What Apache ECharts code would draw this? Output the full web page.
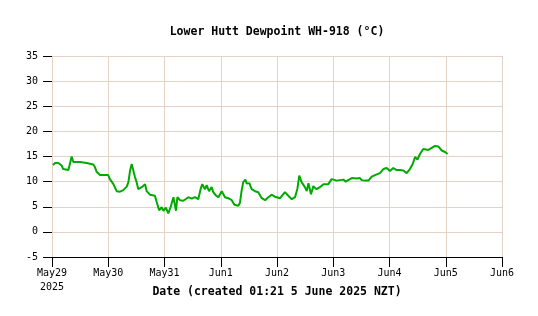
<!DOCTYPE html>
<html>
<head>
<meta charset="utf-8">
<script src="https://cdn.jsdelivr.net/npm/echarts@6/dist/echarts.min.js"></script>
<style>html,body{margin:0;padding:0;background:#fff}#c{width:538px;height:316px}</style>
</head>
<body>
<div id="c"></div>
<script>
// Hours since 2025-05-29 00:00 NZT
var hoursSinceStart = [0.4,1.3,2.7,4.1,4.8,7.0,7.7,8.4,9.1,11.9,13.4,14.8,17.6,18.3,19.1,20.5,24.0,24.7,26.2,27.6,29.0,30.4,31.9,32.6,33.3,34.0,34.7,35.4,36.1,36.8,37.5,38.3,39.7,40.4,41.8,43.9,44.7,45.7,46.8,47.5,48.6,49.6,50.6,51.8,52.5,52.9,53.5,54.6,56.0,56.7,58.2,59.6,61.0,62.4,63.4,64.1,65.3,66.0,67.0,68.1,68.8,70.0,71.0,72.4,73.8,75.2,76.7,77.8,79.5,80.2,80.9,81.6,82.5,83.1,84.2,85.2,86.6,88.0,89.5,90.9,92.3,93.7,95.1,97.3,99.4,100.8,102.3,103.7,104.7,105.5,106.5,107.9,108.7,109.4,110.5,111.5,112.9,114.3,115.8,117.9,119.3,121.5,124.3,125.3,126.4,127.9,130.0,131.4,132.1,133.5,135.0,136.4,137.8,139.9,141.4,142.8,144.2,145.6,147.1,148.5,149.9,151.3,152.7,153.9,154.9,155.9,157.0,158.4,160.6,162.0,163.4,164.8,166.3,167.7,168.8];
var dewpoint = [13.3,13.7,13.7,13.2,12.5,12.3,12.1,15.0,13.9,13.9,13.8,13.7,13.4,12.9,11.9,11.3,11.3,10.5,9.5,8.1,8.0,8.3,9.0,9.9,12.2,13.5,12.2,10.9,9.9,8.5,8.2,8.9,9.5,8.1,7.4,7.2,5.9,4.3,4.9,4.2,4.8,3.7,4.9,6.9,7.0,4.2,6.9,6.3,6.2,5.9,6.9,6.6,6.9,6.5,8.5,9.5,8.5,9.3,8.1,8.9,7.9,7.2,6.9,8.1,6.9,6.7,6.3,5.4,5.2,5.8,8.2,9.9,10.4,9.6,9.7,8.5,8.1,7.9,6.7,6.3,6.9,7.4,7.0,6.7,7.9,7.2,6.5,6.9,8.6,11.2,9.9,8.9,8.1,9.7,7.5,9.1,8.5,8.9,9.5,9.5,10.5,10.2,10.4,10.0,10.3,10.7,10.6,10.7,10.3,10.2,10.2,11.0,11.3,11.7,12.5,12.7,12.1,12.7,12.3,12.3,12.2,11.7,12.5,13.5,14.9,14.4,15.5,16.5,16.3,16.7,17.1,17.0,16.2,15.9,15.5];
var xTickLabels = ['May29\n2025','May30','May31','Jun1','Jun2','Jun3','Jun4','Jun5','Jun6'];
var yMin = -5, yMax = 35, yStep = 5;
var titleText = 'Lower Hutt Dewpoint WH-918 (°C)';
var xAxisName = 'Date (created 01:21 5 June 2025 NZT)';

var seriesData = hoursSinceStart.map(function(h, i){ return [h, dewpoint[i]]; });
var font = 'DejaVu Sans Mono';
var gridColor = '#e5d2c6';

var chart = echarts.init(document.getElementById('c'), null, {renderer:'canvas'});
chart.setOption({
  animation: false,
  backgroundColor: '#ffffff',
  title: {
    text: titleText, left: 272, top: 21, textAlign: 'center',
    textStyle: {fontFamily: font, fontSize: 11.5, fontWeight: 'bold', color: '#000'}
  },
  grid: {left: 52, right: 36, top: 56, bottom: 59, containLabel: false},
  xAxis: {
    type: 'value', min: 0, max: 192, interval: 24,
    name: xAxisName, nameLocation: 'middle', nameGap: 29, nameMoveOverlap: false,
    nameTextStyle: {fontFamily: font, fontSize: 11.5, fontWeight: 'bold', color: '#000'},
    axisLine: {show: true, onZero: false, lineStyle: {color: '#000', width: 1}},
    axisTick: {show: true, length: 10, lineStyle: {color: '#000'}},
    axisLabel: {
      fontFamily: font, fontSize: 10, color: '#000', margin: 9, lineHeight: 14,
      formatter: function(v){ return xTickLabels[Math.round(v/24)] || ''; }
    },
    splitLine: {show: true, lineStyle: {color: gridColor, width: 1}}
  },
  yAxis: {
    type: 'value', min: yMin, max: yMax, interval: yStep,
    axisLine: {show: true, onZero: false, lineStyle: {color: gridColor, width: 1}},
    axisTick: {show: true, length: 9, lineStyle: {color: '#000'}},
    axisLabel: {fontFamily: font, fontSize: 10, color: '#000', margin: 14},
    splitLine: {show: true, lineStyle: {color: gridColor, width: 1}}
  },
  series: [{
    type: 'line', data: seriesData, showSymbol: false, symbol: 'none',
    lineStyle: {color: '#00aa00', width: 2}, z: 5
  }]
});
</script>
</body>
</html>
